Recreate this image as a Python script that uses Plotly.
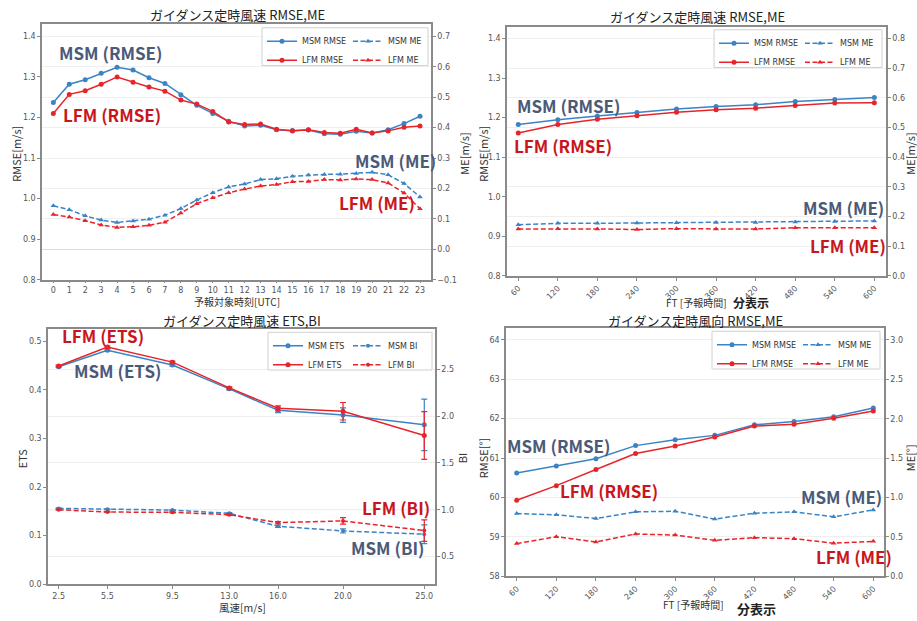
import plotly.graph_objects as go

W, H = 917, 621

# ---------------- data ----------------
hours = list(range(24))
p1_msm_rmse = [1.237, 1.282, 1.293, 1.309, 1.324, 1.317, 1.298, 1.284, 1.256, 1.230, 1.210, 1.191,
               1.179, 1.181, 1.170, 1.168, 1.169, 1.160, 1.159, 1.166, 1.162, 1.170, 1.185, 1.203]
p1_lfm_rmse = [1.210, 1.257, 1.266, 1.282, 1.300, 1.287, 1.275, 1.265, 1.243, 1.233, 1.215, 1.189,
               1.183, 1.184, 1.171, 1.167, 1.170, 1.163, 1.161, 1.171, 1.162, 1.167, 1.176, 1.179]
p1_msm_me = [0.143, 0.130, 0.110, 0.096, 0.088, 0.093, 0.099, 0.112, 0.134, 0.162, 0.186, 0.205,
             0.215, 0.229, 0.232, 0.240, 0.244, 0.246, 0.247, 0.249, 0.253, 0.245, 0.216, 0.172]
p1_lfm_me = [0.114, 0.106, 0.094, 0.080, 0.072, 0.074, 0.079, 0.089, 0.119, 0.150, 0.169, 0.186,
             0.198, 0.208, 0.213, 0.222, 0.223, 0.229, 0.228, 0.231, 0.229, 0.218, 0.185, 0.133]

ft = [60, 120, 180, 240, 300, 360, 420, 480, 540, 600]
p2_msm_rmse = [1.183, 1.195, 1.204, 1.213, 1.222, 1.228, 1.233, 1.241, 1.246, 1.251]
p2_lfm_rmse = [1.161, 1.183, 1.196, 1.205, 1.214, 1.220, 1.224, 1.231, 1.237, 1.238]
p2_msm_me = [0.172, 0.177, 0.177, 0.178, 0.179, 0.180, 0.180, 0.181, 0.183, 0.185]
p2_lfm_me = [0.158, 0.159, 0.158, 0.156, 0.159, 0.158, 0.158, 0.162, 0.162, 0.162]

speeds = [2.5, 5.5, 9.5, 13.0, 16.0, 20.0, 25.0]
p3_msm_ets = [0.4475, 0.4816, 0.451, 0.402, 0.358, 0.348, 0.328]
p3_lfm_ets = [0.449, 0.488, 0.457, 0.404, 0.362, 0.356, 0.306]
p3_msm_ets_err = [0.002, 0.002, 0.002, 0.002, 0.005, 0.015, 0.053]
p3_lfm_ets_err = [0.002, 0.002, 0.002, 0.002, 0.005, 0.018, 0.049]
p3_msm_bi = [1.014, 1.004, 0.996, 0.961, 0.823, 0.773, 0.738]
p3_lfm_bi = [1.000, 0.975, 0.972, 0.947, 0.862, 0.880, 0.777]
p3_msm_bi_err = [0.005, 0.005, 0.005, 0.008, 0.012, 0.022, 0.100]
p3_lfm_bi_err = [0.005, 0.005, 0.005, 0.008, 0.012, 0.035, 0.115]

p4_msm_rmse = [60.62, 60.80, 60.98, 61.315, 61.466, 61.575, 61.843, 61.927, 62.045, 62.271]
p4_lfm_rmse = [59.93, 60.30, 60.71, 61.113, 61.306, 61.533, 61.81, 61.86, 62.01, 62.196]
p4_msm_me = [0.797, 0.780, 0.734, 0.818, 0.826, 0.726, 0.801, 0.818, 0.755, 0.843]
p4_lfm_me = [0.415, 0.503, 0.436, 0.537, 0.524, 0.457, 0.491, 0.478, 0.420, 0.444]

# ---------------- style ----------------
MSM_C = '#3a84c6'
LFM_C = '#e8242b'
MSM_T = '#4b5a78'
LFM_T = '#c8161d'
JP = 'Noto Sans CJK JP'
DASH = '5px,2.5px'


def px(x):
    return x / W


def py(y):
    return 1 - y / H


fig = go.Figure()


def line(x, y, name, color, xa, ya, legend, dashed=False, err=None, sym=None, size=5):
    kw = {}
    if err is not None:
        kw['error_y'] = dict(type='data', array=err, visible=True, color=color,
                             thickness=1.2, width=3)
    fig.add_trace(go.Scatter(
        x=x, y=y, name=name, mode='lines+markers', xaxis=xa, yaxis=ya, legend=legend,
        line=dict(color=color, width=1.5, dash=DASH if dashed else 'solid'),
        marker=dict(symbol=sym or ('triangle-up' if dashed else 'circle'), size=size, color=color),
        **kw))


# panel 1
line(hours, p1_msm_rmse, 'MSM RMSE', MSM_C, 'x', 'y', 'legend')
line(hours, p1_lfm_rmse, 'LFM RMSE', LFM_C, 'x', 'y', 'legend')
line(hours, p1_msm_me, 'MSM ME', MSM_C, 'x', 'y2', 'legend2', dashed=True)
line(hours, p1_lfm_me, 'LFM ME', LFM_C, 'x', 'y2', 'legend2', dashed=True)
# panel 2
line(ft, p2_msm_rmse, 'MSM RMSE', MSM_C, 'x2', 'y3', 'legend3')
line(ft, p2_lfm_rmse, 'LFM RMSE', LFM_C, 'x2', 'y3', 'legend3')
line(ft, p2_msm_me, 'MSM ME', MSM_C, 'x2', 'y4', 'legend4', dashed=True)
line(ft, p2_lfm_me, 'LFM ME', LFM_C, 'x2', 'y4', 'legend4', dashed=True)
# panel 3
line(speeds, p3_msm_ets, 'MSM ETS', MSM_C, 'x3', 'y5', 'legend5', err=p3_msm_ets_err)
line(speeds, p3_lfm_ets, 'LFM ETS', LFM_C, 'x3', 'y5', 'legend5', err=p3_lfm_ets_err)
line(speeds, p3_msm_bi, 'MSM BI', MSM_C, 'x3', 'y6', 'legend6', dashed=True,
     err=p3_msm_bi_err, sym='circle', size=4)
line(speeds, p3_lfm_bi, 'LFM BI', LFM_C, 'x3', 'y6', 'legend6', dashed=True,
     err=p3_lfm_bi_err, sym='circle', size=4)
# panel 4
line(ft, p4_msm_rmse, 'MSM RMSE', MSM_C, 'x4', 'y7', 'legend7')
line(ft, p4_lfm_rmse, 'LFM RMSE', LFM_C, 'x4', 'y7', 'legend7')
line(ft, p4_msm_me, 'MSM ME', MSM_C, 'x4', 'y8', 'legend8', dashed=True)
line(ft, p4_lfm_me, 'LFM ME', LFM_C, 'x4', 'y8', 'legend8', dashed=True)

ax = dict(showline=True, linecolor='#8a8a8a', linewidth=1.5, ticks='outside', ticklen=3,
          tickwidth=1, tickcolor='#8a8a8a', tickfont=dict(family='DejaVu Sans', size=8, color='#555'),
          showgrid=False, zeroline=False)
grid = dict(showgrid=True, gridcolor='#efefef', gridwidth=1)


def A(*parts, **kw):
    d = {}
    for p in parts:
        d.update(p)
    d.update(kw)
    return d


def steps(a, b, s):
    n = int(round((b - a) / s))
    return [round(a + i * s, 4) for i in range(n + 1)]


layout_axes = dict(
    xaxis=A(ax, domain=[px(42), px(431)], range=[-0.71, 23.69], tickvals=hours, anchor='y', mirror=True,
            ticklen=2),
    yaxis=A(ax, domain=[py(282), py(24)], range=[0.8, 1.431], tickvals=steps(0.8, 1.4, 0.1),
            tickformat='.1f', anchor='x'),
    yaxis2=A(ax, grid, overlaying='y', side='right', anchor='x', range=[-0.1, 0.741],
             tickvals=steps(-0.1, 0.7, 0.1), tickformat='.1f', zeroline=True,
             zerolinecolor='#dcdcdc', zerolinewidth=1),
    xaxis2=A(ax, domain=[px(507), px(886)], range=[42.9, 617.7], tickvals=ft, tickangle=-45,
             anchor='y3', mirror=True),
    yaxis3=A(ax, domain=[py(278), py(27)], range=[0.8, 1.430], tickvals=steps(0.8, 1.4, 0.1),
             tickformat='.1f', anchor='x2'),
    yaxis4=A(ax, grid, overlaying='y3', side='right', anchor='x2', range=[0, 0.840],
             tickvals=steps(0, 0.8, 0.1), tickformat='.1f'),
    xaxis3=A(ax, domain=[px(48), px(435)], range=[1.844, 25.66], tickvals=speeds, tickformat='.1f',
             anchor='y5', mirror=True),
    yaxis5=A(ax, domain=[py(589), py(332)], range=[0, 0.5245], tickvals=steps(0, 0.5, 0.1),
             tickformat='.1f', anchor='x3'),
    yaxis6=A(ax, grid, overlaying='y5', side='right', anchor='x3', range=[0.203, 2.928],
             tickvals=steps(0.5, 2.5, 0.5), tickformat='.1f'),
    xaxis4=A(ax, domain=[px(506), px(884)], range=[43.8, 616.2], tickvals=ft, tickangle=-45,
             anchor='y7', mirror=True),
    yaxis7=A(ax, domain=[py(581), py(331)], range=[58, 64.29], tickvals=steps(58, 64, 1),
             tickformat='d', anchor='x4'),
    yaxis8=A(ax, grid, overlaying='y7', side='right', anchor='x4', range=[0, 3.147],
             tickvals=steps(0, 3.0, 0.5), tickformat='.1f'),
)

# legends: two columns per panel
leg_font = dict(family='DejaVu Sans', size=8, color='#333')


def leg(x, y):
    return dict(x=px(x), y=py(y), xanchor='left', yanchor='top', bgcolor='rgba(0,0,0,0)',
                borderwidth=0, font=leg_font, itemwidth=30, tracegroupgap=0)


legend_pos = {
    'legend': (262, 27), 'legend2': (348, 27),
    'legend3': (714, 29), 'legend4': (800, 29),
    'legend5': (268, 334), 'legend6': (348, 334),
    'legend7': (712, 333), 'legend8': (798, 333),
}
legends = {k: leg(*v) for k, v in legend_pos.items()}

frames = [(262, 28, 428, 66), (714, 30, 882, 68), (268, 335, 432, 373), (712, 334, 880, 372)]
shapes = []
for (x0, y0, x1, y1) in frames:
    shapes.append(dict(type='rect', xref='paper', yref='paper', x0=px(x0), x1=px(x1), y0=py(y1), y1=py(y0),
                       line=dict(color='#d0d0d0', width=1), fillcolor='rgba(255,255,255,0.85)',
                       layer='above'))
# BI = 1 reference line
shapes.append(dict(type='line', xref='x3 domain', yref='y6', x0=0, x1=1, y0=1.0, y1=1.0,
                   line=dict(color='#dcdcdc', width=1), layer='below'))

ann = []


def text(x, y, s, size=11, color='#333', bold=False, angle=0, xanchor='center', yanchor='middle', family=JP):
    ann.append(dict(x=px(x), y=py(y), xref='paper', yref='paper', text=('<b>%s</b>' % s) if bold else s,
                    showarrow=False, textangle=angle, xanchor=xanchor, yanchor=yanchor,
                    font=dict(family=family, size=size, color=color)))


# titles
text(237, 15, 'ガイダンス定時風速 RMSE,ME', size=13, color='#222')
text(697, 17, 'ガイダンス定時風速 RMSE,ME', size=13, color='#222')
text(242, 323.5, 'ガイダンス定時風速 ETS,BI', size=13, color='#222')
text(695, 323.5, 'ガイダンス定時風向 RMSE,ME', size=13, color='#222')
# x titles
text(237, 304, '予報対象時刻[UTC]', size=10)
text(729, 305, 'FT [予報時間]', size=10, xanchor='right')
text(731, 305, '分表示', size=12, bold=True, color='#222', xanchor='left')
text(242, 612, '風速[m/s]', size=10.5)
text(726, 609, 'FT [予報時間]', size=10, xanchor='right')
text(735, 613, '分表示', size=13, bold=True, color='#222', xanchor='left')
# y titles
text(16, 155, 'RMSE[m/s]', angle=-90)
text(464, 155, 'ME[m/s]', angle=-90)
text(483, 155, 'RMSE[m/s]', angle=-90)
text(910, 155, 'ME[m/s]', angle=-90)
text(22, 462, 'ETS', angle=-90)
text(462, 462, 'BI', angle=-90)
text(483, 462, 'RMSE[°]', angle=-90)
text(910, 462, 'ME[°]', angle=-90)
# big labels
BIG = 17
text(110, 53, 'MSM (RMSE)', size=BIG, color=MSM_T, bold=True)
text(112, 115, 'LFM (RMSE)', size=BIG, color=LFM_T, bold=True)
text(395, 162, 'MSM (ME)', size=BIG, color=MSM_T, bold=True)
text(377, 204, 'LFM (ME)', size=BIG, color=LFM_T, bold=True)
text(568, 106, 'MSM (RMSE)', size=BIG, color=MSM_T, bold=True)
text(563, 147, 'LFM (RMSE)', size=BIG, color=LFM_T, bold=True)
text(843, 209, 'MSM (ME)', size=BIG, color=MSM_T, bold=True)
text(848, 247, 'LFM (ME)', size=BIG, color=LFM_T, bold=True)
text(103, 338, 'LFM (ETS)', size=BIG, color=LFM_T, bold=True)
text(117, 374, 'MSM (ETS)', size=BIG, color=MSM_T, bold=True)
text(396, 512, 'LFM (BI)', size=BIG, color=LFM_T, bold=True)
text(388, 552, 'MSM (BI)', size=BIG, color=MSM_T, bold=True)
text(558, 449, 'MSM (RMSE)', size=BIG, color=MSM_T, bold=True)
text(609, 494, 'LFM (RMSE)', size=BIG, color=LFM_T, bold=True)
text(841, 501, 'MSM (ME)', size=BIG, color=MSM_T, bold=True)
text(854, 561, 'LFM (ME)', size=BIG, color=LFM_T, bold=True)

fig.update_layout(
    width=W, height=H, autosize=False,
    margin=dict(l=0, r=0, t=0, b=0, pad=0),
    paper_bgcolor='white', plot_bgcolor='white',
    font=dict(family=JP, size=10, color='#333'),
    showlegend=True,
    annotations=ann, shapes=shapes,
    **layout_axes, **legends,
)

fig.write_html('out.html')
